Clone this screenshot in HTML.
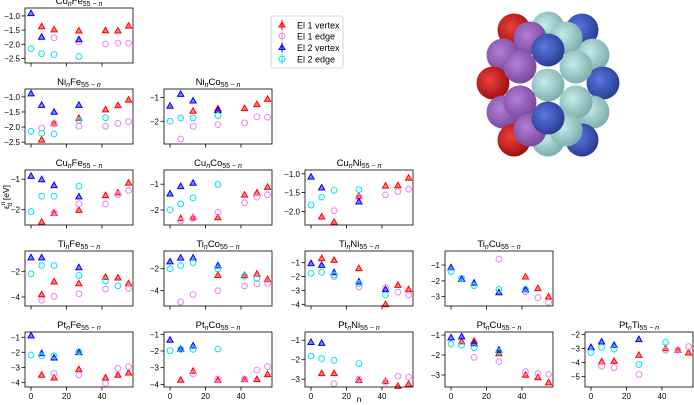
<!DOCTYPE html>
<html><head><meta charset="utf-8">
<style>
html,body{margin:0;padding:0;background:#fff;}
svg{display:block;font-family:"Liberation Sans","DejaVu Sans",sans-serif;}
</style></head>
<body>
<svg id="fig" width="694" height="405" viewBox="0 0 694 405" xmlns="http://www.w3.org/2000/svg">
  <g id="panels"></g>
  <g>
    <rect x="271" y="16" width="72" height="52" rx="2" fill="#fff" stroke="#ccc" stroke-width="0.8"/>
    <g><polygon points="282,22 285,27 279,27" fill="rgba(255,0,0,0.5)" stroke="#f00"/><line x1="282" y1="20" x2="282" y2="30" stroke="#f00"/><text x="297" y="28.5" font-size="9">El 1 vertex</text></g>
    <g><circle cx="282" cy="36" r="2.9" fill="none" stroke="#ee82ee"/><line x1="282" y1="31" x2="282" y2="41" stroke="#ee82ee"/><text x="297" y="39.5" font-size="9">El 1 edge</text></g>
    <g><polygon points="282,44.5 285,49.5 279,49.5" fill="rgba(0,0,255,0.5)" stroke="#00f"/><line x1="282" y1="42.5" x2="282" y2="52.5" stroke="#00f"/><text x="297" y="51" font-size="9">El 2 vertex</text></g>
    <g><circle cx="282" cy="59" r="2.9" fill="none" stroke="#00e5ee"/><line x1="282" y1="54" x2="282" y2="64" stroke="#00e5ee"/><text x="297" y="62.5" font-size="9">El 2 edge</text></g>
  </g>
  <defs>
    <radialGradient id="gRed" cx="0.4" cy="0.4" r="0.6"><stop offset="0" stop-color="#f04040"/><stop offset="1" stop-color="#a01010"/></radialGradient>
    <radialGradient id="gCyan" cx="0.4" cy="0.4" r="0.6"><stop offset="0" stop-color="#c4ecea"/><stop offset="1" stop-color="#7fb0ae"/></radialGradient>
    <radialGradient id="gBlue" cx="0.4" cy="0.4" r="0.6"><stop offset="0" stop-color="#5a78e0"/><stop offset="1" stop-color="#2a3e96"/></radialGradient>
    <radialGradient id="gPurp" cx="0.4" cy="0.4" r="0.6"><stop offset="0" stop-color="#b47fd8"/><stop offset="1" stop-color="#7a4a9c"/></radialGradient>
  </defs>
  <g id="cluster"></g>
  <text x="0" y="0" font-size="8.5" text-anchor="middle" transform="translate(9,197) rotate(-90)">ε<tspan font-size="6" dy="-4">n</tspan><tspan font-size="6" dx="-4" dy="7">d</tspan><tspan dy="-3"> [eV]</tspan></text>
  <text x="359" y="402" font-size="8.5" text-anchor="middle">n</text>
</svg>
<script>
const NS="http://www.w3.org/2000/svg";
const nValues=[0,6,13,27,42,49,55];
const xTicks=[0,20,40];
// CoFe
const coFeV1=[null,-1.37,-1.48,-1.52,-1.51,-1.52,-1.35];
const coFeE1=[null,null,-1.77,-1.92,-1.99,-1.96,-1.96];
const coFeV2=[-0.91,-1.74,null,-1.83,null,null,null];
const coFeE2=[-2.15,-2.33,-2.36,-2.43,null,null,null];
// NiFe
const niFeV1=[null,-2.42,-1.88,-1.7,-1.42,-1.28,-1.1];
const niFeE1=[null,-2.03,-1.88,-1.97,-1.97,-1.88,-1.82];
const niFeV2=[-0.89,-1.27,-1.5,-1.27,null,null,null];
const niFeE2=[-2.14,-2.2,-2.23,-1.78,-1.69,null,null];
// NiCo
const niCoV1=[null,null,-1.57,-1.47,-1.46,-1.29,-1.07];
const niCoE1=[null,-2.74,-2.21,-2.14,-2.07,-1.81,-1.83];
const niCoV2=[-1.36,-0.86,-1.14,-1.54,null,null,null];
const niCoE2=[-2.0,-1.86,-1.86,-1.76,null,null,null];
// CuFe
const cuFeV1=[null,-2.4,-2.11,-2.01,-1.53,-1.44,-1.12];
const cuFeE1=[null,null,-2.09,-1.81,-1.81,-1.5,-1.37];
const cuFeV2=[-0.9,-1.01,-1.2,-1.57,null,null,null];
const cuFeE2=[-2.06,-1.56,-1.56,-1.23,null,null,null];
// CuCo
const cuCoV1=[null,-2.32,-2.29,-2.29,-1.41,-1.33,-1.11];
const cuCoE1=[null,-2.42,-2.32,-2.09,-1.72,-1.5,-1.41];
const cuCoV2=[-1.37,-1.08,-0.95,null,null,null,null];
const cuCoE2=[-1.99,-1.76,-1.53,-1.01,null,null,null];
// CuNi
const cuNiV1=[null,-2.14,-2.28,-1.6,-1.32,-1.31,-1.11];
const cuNiE1=[null,null,-1.98,-1.62,-1.56,-1.47,-1.41];
const cuNiV2=[-1.08,-1.37,null,-1.74,null,null,null];
const cuNiE2=[-1.83,-1.62,-1.44,-1.42,null,null,null];
// TiFe
const tiFeV1=[null,-3.8,-2.8,-2.95,-2.45,-2.5,-2.95];
const tiFeE1=[null,-4.25,-3.95,-3.75,-3.38,null,-3.33];
const tiFeV2=[-0.93,-0.93,null,-1.7,null,null,null];
const tiFeE2=[-2.2,-1.55,-1.55,-2.33,-2.75,-3.13,null];
// TiCo
const tiCoV1=[null,null,null,-2.59,-2.59,-2.47,-2.97];
const tiCoE1=[null,-5.03,-4.35,-4.0,-3.56,-3.35,-3.35];
const tiCoV2=[-1.35,-1.0,-1.0,-1.71,null,null,null];
const tiCoE2=[-2.0,-1.71,-1.44,-2.03,-2.68,-2.88,null];
// TiNi
const tiNiV1=[null,-0.69,-0.81,-1.41,-4.0,-2.61,-2.92];
const tiNiE1=[null,null,-2.0,-2.73,-2.8,-3.13,-3.33];
const tiNiV2=[-1.05,-1.17,-1.7,-2.37,-2.92,null,null];
const tiNiE2=[-1.77,-1.7,-1.89,-2.49,-3.33,null,null];
// TiCu
const tiCuV1=[null,null,null,null,-1.74,-2.47,-3.0];
const tiCuE1=[null,null,null,-0.62,-2.68,-3.06,-3.36];
const tiCuV2=[-1.15,-1.88,-2.12,-2.73,-2.54,null,null];
const tiCuE2=[-1.42,-1.84,-2.31,-2.54,-2.54,null,null];
// PtFe
const ptFeV1=[null,-3.51,-3.69,-3.13,-3.69,-3.51,-3.36];
const ptFeE1=[null,null,-3.4,-3.51,-4.07,-3.07,-2.96];
const ptFeV2=[-0.89,-2.07,-2.36,-2.0,null,null,null];
const ptFeE2=[-2.18,-2.24,-2.24,-1.96,null,null,null];
// PtCo
const ptCoV1=[null,-3.74,-3.2,-3.74,-3.7,-3.7,-3.4];
const ptCoE1=[null,null,-3.38,-3.68,-3.68,-3.14,-2.94];
const ptCoV2=[-1.34,-1.88,-1.68,null,null,null,null];
const ptCoE2=[-1.98,-1.9,-1.9,-1.88,null,null,null];
// PtNi
const ptNiV1=[null,-2.7,-2.7,-3.05,-3.1,-3.35,-3.25];
const ptNiE1=[null,null,-3.23,-3.0,-3.15,-2.85,-2.9];
const ptNiV2=[-1.1,-1.15,null,null,null,null,null];
const ptNiE2=[-1.81,-1.94,-2.03,-2.2,null,null,null];
// PtCu
const ptCuV1=[null,-1.33,-1.3,-1.92,-3.0,-3.12,-3.38];
const ptCuE1=[null,null,-2.12,-2.33,-2.83,-2.92,-2.97];
const ptCuV2=[-1.13,-1.08,-1.42,-1.75,null,null,null];
const ptCuE2=[-1.45,-1.5,-1.63,-1.83,null,null,null];
// PtTi
const ptTiV1=[null,-3.94,-3.89,-3.47,-2.99,-3.11,-3.3];
const ptTiE1=[null,-4.25,-4.36,-4.84,-3.11,-3.11,-2.87];
const ptTiV2=[-2.92,-2.52,-2.76,-2.35,null,null,null];
const ptTiE2=[-3.28,-2.92,-3.04,-4.13,-2.57,null,null];

const yTicksHalf=[-1.0,-1.5,-2.0,-2.5];
const yTicks12=[-1,-2];
const yTicksCuNi=[-1.0,-1.5,-2.0];
const yTicks24=[-2,-4];
const yTicks1to4=[-1,-2,-3,-4];
const yTicks1to3=[-1,-2,-3];
const yTicks2to5=[-2,-3,-4,-5];

const panels=[
 {id:"co-fe",a:"Co",b:"Fe",c:0,r:0,ymin:-2.66,ymax:-0.72,ticks:yTicksHalf,dec:1,d:[coFeV1,coFeE1,coFeV2,coFeE2]},
 {id:"ni-fe",a:"Ni",b:"Fe",c:0,r:1,ymin:-2.56,ymax:-0.74,ticks:yTicksHalf,dec:1,d:[niFeV1,niFeE1,niFeV2,niFeE2]},
 {id:"ni-co",a:"Ni",b:"Co",c:1,r:1,ymin:-2.95,ymax:-0.65,ticks:yTicks12,dec:0,d:[niCoV1,niCoE1,niCoV2,niCoE2]},
 {id:"cu-fe",a:"Cu",b:"Fe",c:0,r:2,ymin:-2.5,ymax:-0.7,ticks:yTicks12,dec:0,d:[cuFeV1,cuFeE1,cuFeV2,cuFeE2]},
 {id:"cu-co",a:"Cu",b:"Co",c:1,r:2,ymin:-2.58,ymax:-0.45,ticks:yTicks12,dec:0,d:[cuCoV1,cuCoE1,cuCoV2,cuCoE2]},
 {id:"cu-ni",a:"Cu",b:"Ni",c:2,r:2,ymin:-2.36,ymax:-0.9,ticks:yTicksCuNi,dec:1,d:[cuNiV1,cuNiE1,cuNiV2,cuNiE2]},
 {id:"ti-fe",a:"Ti",b:"Fe",c:0,r:3,ymin:-4.7,ymax:-0.42,ticks:yTicks24,dec:0,d:[tiFeV1,tiFeE1,tiFeV2,tiFeE2]},
 {id:"ti-co",a:"Ti",b:"Co",c:1,r:3,ymin:-5.4,ymax:-0.38,ticks:yTicks24,dec:0,d:[tiCoV1,tiCoE1,tiCoV2,tiCoE2]},
 {id:"ti-ni",a:"Ti",b:"Ni",c:2,r:3,ymin:-4.12,ymax:-0.16,ticks:yTicks1to4,dec:0,d:[tiNiV1,tiNiE1,tiNiV2,tiNiE2]},
 {id:"ti-cu",a:"Ti",b:"Cu",c:3,r:3,ymin:-3.59,ymax:-0.11,ticks:yTicks1to3,dec:0,d:[tiCuV1,tiCuE1,tiCuV2,tiCuE2]},
 {id:"pt-fe",a:"Pt",b:"Fe",c:0,r:4,ymin:-4.31,ymax:-0.65,ticks:yTicks1to4,dec:0,d:[ptFeV1,ptFeE1,ptFeV2,ptFeE2],xl:1},
 {id:"pt-co",a:"Pt",b:"Co",c:1,r:4,ymin:-4.16,ymax:-0.86,ticks:yTicks1to4,dec:0,d:[ptCoV1,ptCoE1,ptCoV2,ptCoE2],xl:1},
 {id:"pt-ni",a:"Pt",b:"Ni",c:2,r:4,ymin:-3.4,ymax:-0.58,ticks:yTicks1to3,dec:0,d:[ptNiV1,ptNiE1,ptNiV2,ptNiE2],xl:1},
 {id:"pt-cu",a:"Pt",b:"Cu",c:3,r:4,ymin:-3.6,ymax:-0.85,ticks:yTicks1to3,dec:0,d:[ptCuV1,ptCuE1,ptCuV2,ptCuE2],xl:1},
 {id:"pt-ti",a:"Pt",b:"Ti",c:4,r:4,ymin:-5.73,ymax:-1.83,ticks:yTicks2to5,dec:0,d:[ptTiV1,ptTiE1,ptTiV2,ptTiE2],xl:1}
];
const colLeft=[25,164,305,445,585], rowTop=[8,89,170,251,332], PW=108, PH=55;
const XMIN=-3.4, XMAX=57.5;
const seriesStyle=[
 {name:"el1-vertex",col:"#ff0000",fill:"rgba(255,0,0,0.5)",tri:true},
 {name:"el1-edge",col:"#ee82ee",tri:false},
 {name:"el2-vertex",col:"#0000ff",fill:"rgba(0,0,255,0.5)",tri:true},
 {name:"el2-edge",col:"#00e5ee",tri:false}
];
function el(tag,attrs,parent){const e=document.createElementNS(NS,tag);for(const k in attrs)e.setAttribute(k,attrs[k]);parent.appendChild(e);return e;}
const root=document.getElementById("panels");
panels.forEach(p=>{
  const L=colLeft[p.c],T=rowTop[p.r];
  const xs=v=>L+(v-XMIN)/(XMAX-XMIN)*PW;
  const ys=v=>T+(p.ymax-v)/(p.ymax-p.ymin)*PH;
  const g=el("g",{},root);
  
  
  const t=el("text",{x:L+PW/2,y:T-4,"font-size":"9.5","text-anchor":"middle"},g);
  
  
  t.innerHTML=p.a+'<tspan font-style="italic" font-size="7" dy="2">n</tspan><tspan dy="-2">'+p.b+'</tspan><tspan font-size="7" dy="2">55 − </tspan><tspan font-size="7" font-style="italic">n</tspan>';
  p.ticks.forEach(v=>{
    const y=ys(v);
    el("line",{x1:L-3.5,x2:L,y1:y,y2:y,stroke:"#000","stroke-width":0.8},g);
    const lb=el("text",{x:L-5,y:y+3,"font-size":"8","text-anchor":"end"},g);
    
    
    lb.textContent="−"+Math.abs(v).toFixed(p.dec);
  });
  xTicks.forEach(v=>{
    const x=xs(v);
    el("line",{x1:x,x2:x,y1:T+PH,y2:T+PH+3.5,stroke:"#000","stroke-width":0.8},g);
    if(p.xl){
      const lb=el("text",{x:x,y:T+PH+12,"font-size":"8","text-anchor":"middle"},g);
      
      
      lb.textContent=v;
    }
  });
  p.d.forEach((arr,si)=>{
    const s=seriesStyle[si];
    arr.forEach((v,i)=>{
      if(v===null||v===undefined)return;
      const x=xs(nValues[i]),y=ys(v);
      let m;
      if(s.tri){m=el("polygon",{points:`${x},${y-3.2} ${x+3.1},${y+2.3} ${x-3.1},${y+2.3}`,fill:s.fill,stroke:s.col,"stroke-width":1},g);}
      else{m=el("circle",{cx:x,cy:y,r:2.9,fill:"none",stroke:s.col,"stroke-width":1},g);}
      
      
    });
  });
  const fr=el("rect",{x:L,y:T,width:PW,height:PH,fill:"none",stroke:"#000","stroke-width":0.8},g);
  
  
});
const spheres=[
 ["gRed",514,30],["gCyan",548,28],["gBlue",582,30],["gPurp",503,55],["gCyan",593,55],
 ["gRed",493,83],["gBlue",603,83],["gPurp",503,112],["gCyan",593,112],
 ["gRed",514,140],["gCyan",548,140],["gBlue",582,140],
 ["gPurp",530,38],["gCyan",566,38],["gPurp",520,67],["gCyan",576,67],["gCyan",548,85],
 ["gPurp",520,102],["gCyan",576,102],["gPurp",530,130],["gCyan",566,130],
 ["gBlue",548,50],["gBlue",548,118]
];
const cg=document.getElementById("cluster");
spheres.forEach(s=>{
  const c=el("circle",{cx:s[1],cy:s[2],r:16.5,fill:"url(#"+s[0]+")"},cg);
  
  
});
</script>
</body></html>
